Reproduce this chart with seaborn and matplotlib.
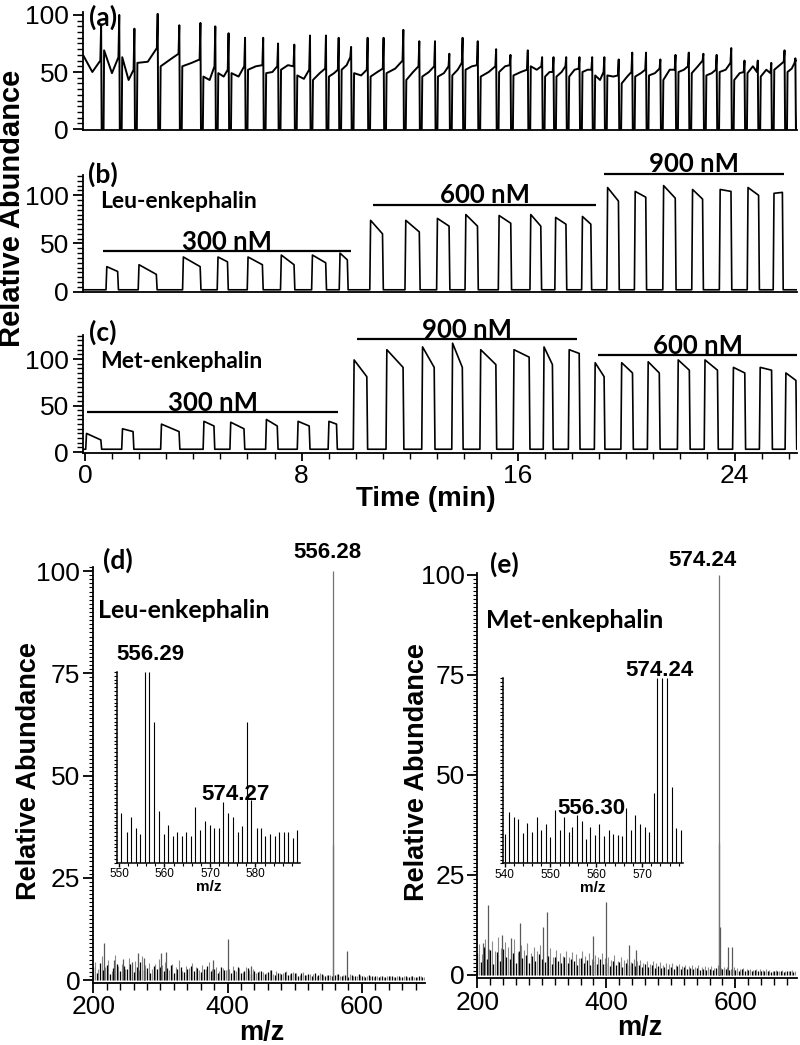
import numpy as np
import matplotlib
matplotlib.use("Agg")
import matplotlib.pyplot as plt
from matplotlib.ticker import MultipleLocator, NullFormatter
import seaborn as sns

# ---------------- data ----------------
# (a) flow trace: times (min) where the signal drops to zero, the spike just before
# each drop, and the level at start / middle / end of each of the 48 stretches
a_drop = [0.61, 1.28, 1.84, 2.70, 3.50, 4.28, 4.83, 5.32, 5.93, 6.60, 7.15, 7.75,
          8.33, 8.92, 9.39, 9.85, 10.46, 11.05, 11.78, 12.37, 12.95, 13.48, 13.97,
          14.53, 15.21, 15.74, 16.38, 16.91, 17.33, 17.80, 18.29, 18.76, 19.21,
          19.74, 20.24, 20.75, 21.28, 21.84, 22.33, 22.87, 23.36, 23.90, 24.39,
          24.88, 25.38, 25.87, 26.27]
a_spike = [91, 100, 88, 101, 91, 93, 90, 84, 80, 80, 75, 74, 82, 82, 80, 72, 80, 80,
           87, 77, 77, 66, 80, 77, 70, 65, 69, 63, 63, 63, 63, 63, 63, 61, 67, 67,
           61, 65, 67, 66, 65, 71, 60, 60, 58, 69, 62]
a_lvl_start = [65, 69, 63, 58, 55, 55, 46, 49, 49, 52, 49, 52, 47, 43, 46, 52, 49, 46,
               49, 43, 46, 46, 47, 52, 46, 50, 47, 55, 46, 46, 46, 50, 47, 47, 40, 46,
               47, 43, 50, 49, 47, 50, 43, 49, 46, 52, 50, 60]
a_lvl_mid = [50, 49, 43, 59, 61, 58, 43, 46, 46, 55, 50, 56, 44, 49, 49, 56, 47, 50,
             53, 50, 50, 49, 52, 55, 50, 55, 50, 52, 50, 50, 52, 52, 43, 46, 46, 49,
             49, 52, 52, 55, 49, 52, 49, 55, 52, 56, 53, 60]
a_lvl_end = [60, 63, 52, 71, 66, 61, 55, 52, 55, 56, 55, 55, 52, 53, 52, 63, 52, 53,
             60, 55, 55, 55, 58, 56, 55, 56, 52, 55, 50, 55, 53, 52, 50, 47, 50, 52,
             53, 52, 55, 60, 52, 58, 50, 50, 49, 59, 58, 60]

# (b) Leu-enkephalin pulses: rise / fall time (min), plateau level at start / end
b_rise = [0.77, 1.96, 3.60, 4.88, 5.99, 7.22, 8.37, 9.39,
          10.52, 11.82, 12.99, 14.04, 15.27, 16.44, 17.36, 18.35,
          19.28, 20.30, 21.35, 22.42, 23.44, 24.47, 25.43]
b_fall = [1.23, 2.66, 4.28, 5.29, 6.58, 7.75, 8.92, 9.72,
          11.02, 12.38, 13.48, 14.53, 15.76, 16.87, 17.80, 18.72,
          19.74, 20.75, 21.84, 22.85, 23.90, 24.92, 25.80]
b_top_start = [26, 28, 36, 36, 36, 38, 38, 40,
               74, 74, 76, 80, 79, 80, 77, 78,
               108, 104, 110, 106, 106, 108, 102]
b_top_end = [21, 18, 26, 31, 28, 28, 30, 33,
             60, 62, 68, 68, 71, 68, 70, 70,
             94, 98, 97, 96, 104, 100, 103]
b_base = 2

# (c) Met-enkephalin pulses
c_rise = [0.02, 1.35, 2.79, 4.36, 5.35, 6.67, 7.84, 8.98,
          9.91, 11.12, 12.44, 13.55, 14.59, 15.82, 16.93, 17.86,
          18.82, 19.80, 20.78, 21.89, 22.88, 23.93, 24.92, 25.87]
c_fall = [0.61, 1.80, 3.50, 4.79, 5.90, 7.13, 8.31, 9.32,
          10.44, 11.78, 12.93, 13.97, 15.21, 16.44, 17.30, 18.29,
          19.21, 20.26, 21.25, 22.36, 23.40, 24.41, 25.40, 26.30]
c_top_start = [20, 25, 30, 33, 32, 35, 33, 33,
               99, 110, 113, 117, 110, 110, 113, 110,
               96, 96, 97, 99, 99, 91, 91, 85]
c_top_end = [13, 22, 22, 28, 25, 28, 28, 30,
             81, 91, 91, 91, 94, 102, 94, 106,
             81, 85, 85, 88, 88, 85, 88, 77]
c_base = 3

# concentration bars
b_conc = ["300 nM", "600 nM", "900 nM"]
b_conc_from = [0.67, 10.64, 19.18]
b_conc_to = [9.82, 18.88, 25.83]
b_conc_level = [42, 90, 122]
c_conc = ["300 nM", "900 nM", "600 nM"]
c_conc_from = [0.08, 10.06, 18.97]
c_conc_to = [9.35, 18.17, 26.31]
c_conc_level = [43, 121, 104]

# (d) Leu-enkephalin mass spectrum: baseline lines every 5 m/z from 200 (black)
# and from 202.5 (grey), plus the distinct peaks
d_noise_black = [3.2, 1.8, 4.1, 2.5, 3.6, 1.5, 2.9, 3.9, 2.2, 3.4,
                 2.6, 3.8, 1.9, 3.1, 4.3, 2.4, 3.0, 1.7, 3.5, 2.8,
                 3.3, 2.1, 2.9, 3.7, 1.8, 2.6, 3.2, 2.0, 2.7, 3.4,
                 2.2, 3.0, 1.9, 2.8, 3.5, 2.1, 2.6, 1.7, 3.1, 2.4,
                 2.7, 1.8, 2.5, 3.2, 1.6, 2.3, 2.9, 1.5, 2.2, 1.9,
                 2.1, 1.4, 1.9, 2.4, 1.3, 1.8, 1.5, 2.0, 1.2, 1.7,
                 1.6, 1.1, 1.8, 1.3, 1.5, 1.0, 1.7, 1.2, 1.4, 1.0,
                 1.3, 0.9, 1.2, 1.5, 1.0, 1.3, 0.8, 1.2, 1.0, 1.4,
                 1.1, 0.8, 1.2, 0.9, 1.0, 0.7, 1.1, 0.8, 1.0, 0.9,
                 0.8, 1.0, 0.7, 0.9, 0.8, 1.0, 0.7, 0.9, 0.8]
d_noise_grey = [4.5, 2.6, 5.8, 3.1, 4.9, 2.2, 6.2, 3.4, 4.0, 2.8,
                5.3, 3.0, 4.6, 2.5, 5.9, 3.6, 4.2, 2.7, 3.9, 5.1,
                3.6, 4.4, 2.5, 3.9, 3.1, 4.8, 2.3, 3.5, 2.9, 4.1,
                3.2, 2.4, 3.7, 2.8, 4.3, 2.6, 3.3, 2.1, 3.0, 2.5,
                2.8, 3.4, 2.2, 2.9, 1.9, 3.1, 2.4, 2.7, 1.8, 2.3,
                2.0, 1.7, 2.4, 1.5, 2.1, 1.8, 1.6, 2.2, 1.4, 1.9,
                1.6, 1.3, 1.9, 1.2, 1.5, 1.4, 1.1, 1.6, 1.3, 1.2,
                1.2, 1.0, 1.4, 1.1, 1.3, 0.9, 1.5, 1.1, 1.0, 1.2,
                1.0, 0.9, 1.1, 0.8, 1.0, 0.9, 0.8, 1.1, 0.9, 0.8,
                0.9, 0.7, 1.0, 0.8, 0.9, 0.7, 0.8, 0.9, 0.7]
d_peak_mz = [216.4, 231.0, 244.7, 257.0, 266.0, 276.0, 300.4, 307.9, 378.0,
             400.3, 435.0, 557.3, 577.6]
d_peak_h = [9.1, 4.9, 5.1, 4.4, 6.5, 5.3, 6.7, 6.8, 4.9, 10.0, 3.4, 33.0, 7.0]
d_base_mz, d_base_h = 556.28, 100

# (d) inset, 550-590 m/z (height in % of inset)
d_in_mz = [550.4, 551.7, 552.6, 553.7, 554.6, 555.7, 556.6, 557.8, 558.7, 559.8,
           560.7, 561.9, 562.7, 563.8, 564.7, 565.8, 566.8, 567.9, 569.0, 570.1,
           571.0, 572.1, 572.8, 573.9, 575.0, 576.1, 577.1, 578.2, 579.1, 580.3,
           581.2, 582.2, 583.1, 584.2, 585.1, 586.2, 587.2, 588.3, 589.2]
d_in_h = [26, 16, 24, 18, 15, 100, 100, 74, 27, 15, 20, 14, 16, 14, 16, 14,
          29, 17, 22, 20, 18, 18, 32, 26, 24, 16, 19, 74, 33, 18, 18, 14, 15,
          14, 16, 16, 16, 13, 17]

# (e) Met-enkephalin mass spectrum
e_noise_black = [5.5, 3.2, 7.0, 4.1, 6.2, 2.8, 5.8, 3.6, 6.6, 4.4,
                 3.9, 5.6, 3.0, 6.1, 4.2, 5.0, 2.9, 4.7, 3.5, 5.3,
                 4.1, 3.2, 4.8, 2.7, 4.4, 3.6, 2.9, 4.6, 3.1, 3.9,
                 3.4, 2.6, 4.2, 3.0, 3.7, 2.4, 3.5, 2.8, 3.9, 2.7,
                 3.1, 2.3, 3.6, 2.5, 3.2, 2.1, 2.9, 2.4, 3.0, 2.2,
                 2.5, 1.9, 2.8, 2.0, 2.4, 1.7, 2.3, 1.8, 2.1, 1.6,
                 2.0, 1.5, 2.2, 1.6, 1.9, 1.4, 1.8, 1.5, 1.7, 1.3,
                 1.6, 1.2, 1.5, 1.3, 1.7, 1.1, 1.4, 1.6, 1.2, 1.5,
                 1.3, 1.0, 1.4, 1.1, 1.2, 0.9, 1.3, 1.0, 1.1, 0.9,
                 1.1, 0.8, 1.0, 0.9, 1.1, 0.8, 1.0, 0.9, 0.8]
e_noise_grey = [7.8, 5.2, 9.1, 6.4, 8.6, 5.9, 9.6, 6.8, 8.2, 7.1,
                6.5, 8.9, 5.8, 7.6, 6.2, 8.1, 5.4, 7.0, 6.0, 7.4,
                6.1, 5.0, 6.8, 4.6, 6.3, 5.5, 4.8, 6.0, 4.4, 5.7,
                5.2, 4.3, 5.9, 4.7, 5.4, 4.0, 5.1, 4.5, 5.6, 4.2,
                4.6, 3.8, 5.0, 3.5, 4.4, 3.7, 4.1, 3.3, 3.9, 3.6,
                3.7, 3.0, 3.5, 2.8, 3.4, 2.9, 3.2, 2.6, 3.0, 2.7,
                2.9, 2.4, 2.7, 2.2, 2.6, 2.3, 2.5, 2.0, 2.4, 2.1,
                2.3, 1.9, 2.2, 1.8, 2.4, 1.7, 2.0, 1.9, 1.6, 2.1,
                1.8, 1.5, 1.7, 1.4, 1.6, 1.3, 1.5, 1.4, 1.2, 1.4,
                1.3, 1.1, 1.2, 1.0, 1.3, 1.1, 1.0, 1.2, 0.9]
e_peak_mz = [208.8, 217.0, 237.8, 252.2, 266.2, 301.4, 307.6, 378.9, 399.5,
             435.7, 446.0, 575.2, 576.2, 589.1, 595.3]
e_peak_h = [8.0, 17.5, 10.0, 9.2, 13.0, 12.0, 15.8, 9.75, 18.3, 7.5, 6.25,
            33.0, 12.0, 7.1, 7.1]
e_base_mz, e_base_h = 574.24, 100

# (e) inset, 540-579 m/z
e_in_mz = [540.2, 541.0, 542.1, 543.0, 544.0, 545.0, 546.1, 547.1, 548.0, 549.0,
           550.0, 551.0, 552.0, 552.9, 554.0, 554.8, 555.8, 556.9, 557.8, 558.7,
           559.7, 560.7, 561.8, 562.7, 563.7, 564.7, 565.6, 566.6, 567.6, 568.5,
           569.6, 570.7, 571.6, 572.5, 573.3, 574.4, 575.4, 576.5, 577.4, 578.4]
e_in_h = [16, 28, 25, 24, 16.5, 22, 17, 25, 18, 21,
          14, 29, 18, 25, 17, 19.5, 26, 23, 13, 19.5,
          15.5, 21, 15, 18, 16, 15.5, 15, 30, 18, 26,
          21.5, 19.5, 17, 38, 100, 100, 100, 41.5, 19, 18]

# ---------------- style ----------------
sns.set_style("ticks")
plt.rcParams['font.family'] = ['Liberation Sans', 'DejaVu Sans']
plt.rcParams.update({'text.color': 'black', 'axes.labelcolor': 'black',
                     'xtick.color': 'black', 'ytick.color': 'black',
                     'axes.edgecolor': 'black', 'axes.linewidth': 1.3})
CAL = ['Lato', 'DejaVu Sans']   # stand-in for the Calibri-like annotations

W, H = 800, 1045
T0, T1 = -0.08, 26.31
fig = plt.figure(figsize=(W / 100, H / 100), dpi=100)


def add_ax(l, t, r, b):
    ax = fig.add_axes([l / W, 1 - b / H, (r - l) / W, (b - t) / H])
    ax.set_facecolor('none')
    sns.despine(ax=ax)
    return ax


def pulse_trace(rise, fall, top0, top1, base):
    xs, ys = [T0], [base]
    for r, f, s, e in zip(rise, fall, top0, top1):
        xs += [r, r + 0.03, f - 0.03, f]
        ys += [base, s, e, base]
    xs.append(T1)
    ys.append(base)
    return xs, ys


def flow_trace():
    xs, ys = [T0], [a_lvl_start[0]]
    start = T0
    for k, td in enumerate(a_drop):
        xs += [(start + td) / 2, td - 0.05, td - 0.02, td, td + 0.07]
        ys += [a_lvl_mid[k], a_lvl_end[k], a_spike[k], 0, 0]
        start = td + 0.09
        xs.append(start)
        ys.append(a_lvl_start[k + 1])
    xs += [(start + T1) / 2, T1]
    ys += [a_lvl_mid[-1], a_lvl_end[-1]]
    return xs, ys


def time_axis(ax, ylim, show_x):
    ax.set_xlim(T0, T1)
    ax.set_ylim(*ylim)
    ax.yaxis.set_major_locator(MultipleLocator(50))
    ax.yaxis.set_minor_locator(MultipleLocator(5))
    ax.tick_params(axis='y', which='major', length=7, width=1.3, labelsize=19, pad=3)
    ax.tick_params(axis='y', which='minor', length=4, width=1.0)
    if show_x:
        ax.xaxis.set_major_locator(MultipleLocator(8))
        ax.xaxis.set_minor_locator(MultipleLocator(1))
        ax.tick_params(axis='x', which='major', length=6, width=1.3, labelsize=19, pad=2)
        ax.tick_params(axis='x', which='minor', length=4, width=1.0)
    else:
        ax.tick_params(axis='x', which='both', bottom=False, labelbottom=False)
    ax.set_xlabel('')
    ax.set_ylabel('')


def conc_bars(ax, names, t_from, t_to, levels):
    for n, a, b, lv in zip(names, t_from, t_to, levels):
        ax.hlines(lv, a, b, color='k', lw=1.6, clip_on=False)
        ax.text((a + b) / 2, lv + 10, n, ha='center', va='center', fontsize=18.5,
                family=CAL, fontweight='bold', clip_on=False)


# ---- (a) ----
ax_a = add_ax(83, 12, 797, 129.5)
x, y = flow_trace()
sns.lineplot(x=x, y=y, ax=ax_a, estimator=None, sort=False, color='k', lw=1.4)
time_axis(ax_a, (-0.4, 102.6), False)

# ---- (b) ----
ax_b = add_ax(83, 175, 797, 292.3)
x, y = pulse_trace(b_rise, b_fall, b_top_start, b_top_end, b_base)
sns.lineplot(x=x, y=y, ax=ax_b, estimator=None, sort=False, color='k', lw=1.2)
time_axis(ax_b, (-0.6, 121), False)
conc_bars(ax_b, b_conc, b_conc_from, b_conc_to, b_conc_level)

# ---- (c) ----
ax_c = add_ax(83, 335, 797, 452.5)
x, y = pulse_trace(c_rise, c_fall, c_top_start, c_top_end, c_base)
sns.lineplot(x=x, y=y, ax=ax_c, estimator=None, sort=False, color='k', lw=1.2)
time_axis(ax_c, (-0.5, 125.8), True)
conc_bars(ax_c, c_conc, c_conc_from, c_conc_to, c_conc_level)


# ---- mass spectra ----
def spectrum(ax, start, black, grey, pk_mz, pk_h, base_mz, base_h, xlim, ylim):
    mz_b = start + 5 * np.arange(len(black))
    mz_g = start + 2.5 + 5 * np.arange(len(grey))
    ax.vlines(mz_g, 0, grey, colors='0.55', lw=0.8)
    ax.vlines(mz_b, 0, black, colors='k', lw=0.9)
    ax.vlines(pk_mz, 0, pk_h, colors='0.35', lw=0.9)
    ax.vlines([base_mz], 0, [base_h], colors='0.45', lw=0.9)
    ax.set_xlim(*xlim)
    ax.set_ylim(*ylim)
    ax.xaxis.set_major_locator(MultipleLocator(200))
    ax.xaxis.set_minor_locator(MultipleLocator(20))
    ax.yaxis.set_major_locator(MultipleLocator(25))
    ax.yaxis.set_minor_locator(MultipleLocator(1))
    ax.tick_params(axis='both', which='major', length=7, width=1.3, labelsize=19, pad=2)
    ax.tick_params(axis='x', which='minor', length=5, width=1.0)
    ax.tick_params(axis='y', which='minor', length=3, width=0.8)


def inset(ax, mz, h, xlim):
    ax.vlines(mz, 0, h, colors='k', lw=0.8)
    ax.set_xlim(*xlim)
    ax.set_ylim(0, 100)
    ax.xaxis.set_major_locator(MultipleLocator(10))
    ax.xaxis.set_minor_locator(MultipleLocator(2))
    ax.yaxis.set_major_locator(MultipleLocator(10))
    ax.yaxis.set_minor_locator(MultipleLocator(2))
    ax.yaxis.set_major_formatter(NullFormatter())
    ax.tick_params(axis='x', which='major', length=3, width=1.0, labelsize=8.5, pad=1)
    ax.tick_params(axis='x', which='minor', length=2, width=0.8)
    ax.tick_params(axis='y', which='both', length=2, width=0.8)
    for s in ax.spines.values():
        s.set_linewidth(1.1)
    ax.set_xlabel('m/z', fontsize=11, fontweight='bold', labelpad=0)


ax_d = add_ax(92.7, 567, 425, 983)
spectrum(ax_d, 200, d_noise_black, d_noise_grey, d_peak_mz, d_peak_h,
         d_base_mz, d_base_h, (199.1, 694), (-0.73, 101))
ax_e = add_ax(477.3, 573, 796.7, 978)
spectrum(ax_e, 200, e_noise_black, e_noise_grey, e_peak_mz, e_peak_h,
         e_base_mz, e_base_h, (200, 695), (-0.75, 100.5))

ax_di = add_ax(116.7, 672, 300, 862.7)
inset(ax_di, d_in_mz, d_in_h, (549.5, 589.8))
ax_ei = add_ax(502.7, 678.3, 683.3, 863.3)
inset(ax_ei, e_in_mz, e_in_h, (539.6, 579))


# ---------------- text ----------------
def ftext(px, py, s, **kw):
    fig.text(px / W, 1 - py / H, s, **kw)


bold = dict(fontweight='bold')
ftext(12, 208, 'Relative Abundance', rotation=90, ha='center', va='center', fontsize=21, **bold)
ftext(29, 771, 'Relative Abundance', rotation=90, ha='center', va='center', fontsize=19.5, **bold)
ftext(417, 772, 'Relative Abundance', rotation=90, ha='center', va='center', fontsize=19.5, **bold)
ftext(426, 499, 'Time (min)', ha='center', va='center', fontsize=20, **bold)
ftext(262, 1033, 'm/z', ha='center', va='center', fontsize=19.5, **bold)
ftext(640, 1028, 'm/z', ha='center', va='center', fontsize=19.5, **bold)

for lab, px, py in [('(a)', 103, 17), ('(b)', 103, 174), ('(c)', 103, 332),
                    ('(d)', 118, 560), ('(e)', 504, 564)]:
    ftext(px, py, lab, ha='center', va='center', fontsize=19, family=CAL, **bold)

ftext(100, 202, 'Leu-enkephalin', ha='left', va='center', fontsize=16.5, family=CAL, **bold)
ftext(100, 362, 'Met-enkephalin', ha='left', va='center', fontsize=16.5, family=CAL, **bold)
ftext(98, 610, 'Leu-enkephalin', ha='left', va='center', fontsize=18, family=CAL, **bold)
ftext(486, 620, 'Met-enkephalin', ha='left', va='center', fontsize=18, family=CAL, **bold)

for lab, px, py in [('556.28', 327, 552), ('556.29', 150, 655), ('574.27', 236, 795),
                    ('574.24', 702, 560), ('574.24', 659, 670), ('556.30', 591, 808)]:
    ftext(px, py, lab, ha='center', va='center', fontsize=16, **bold)

fig.savefig('out.png', dpi=100)
